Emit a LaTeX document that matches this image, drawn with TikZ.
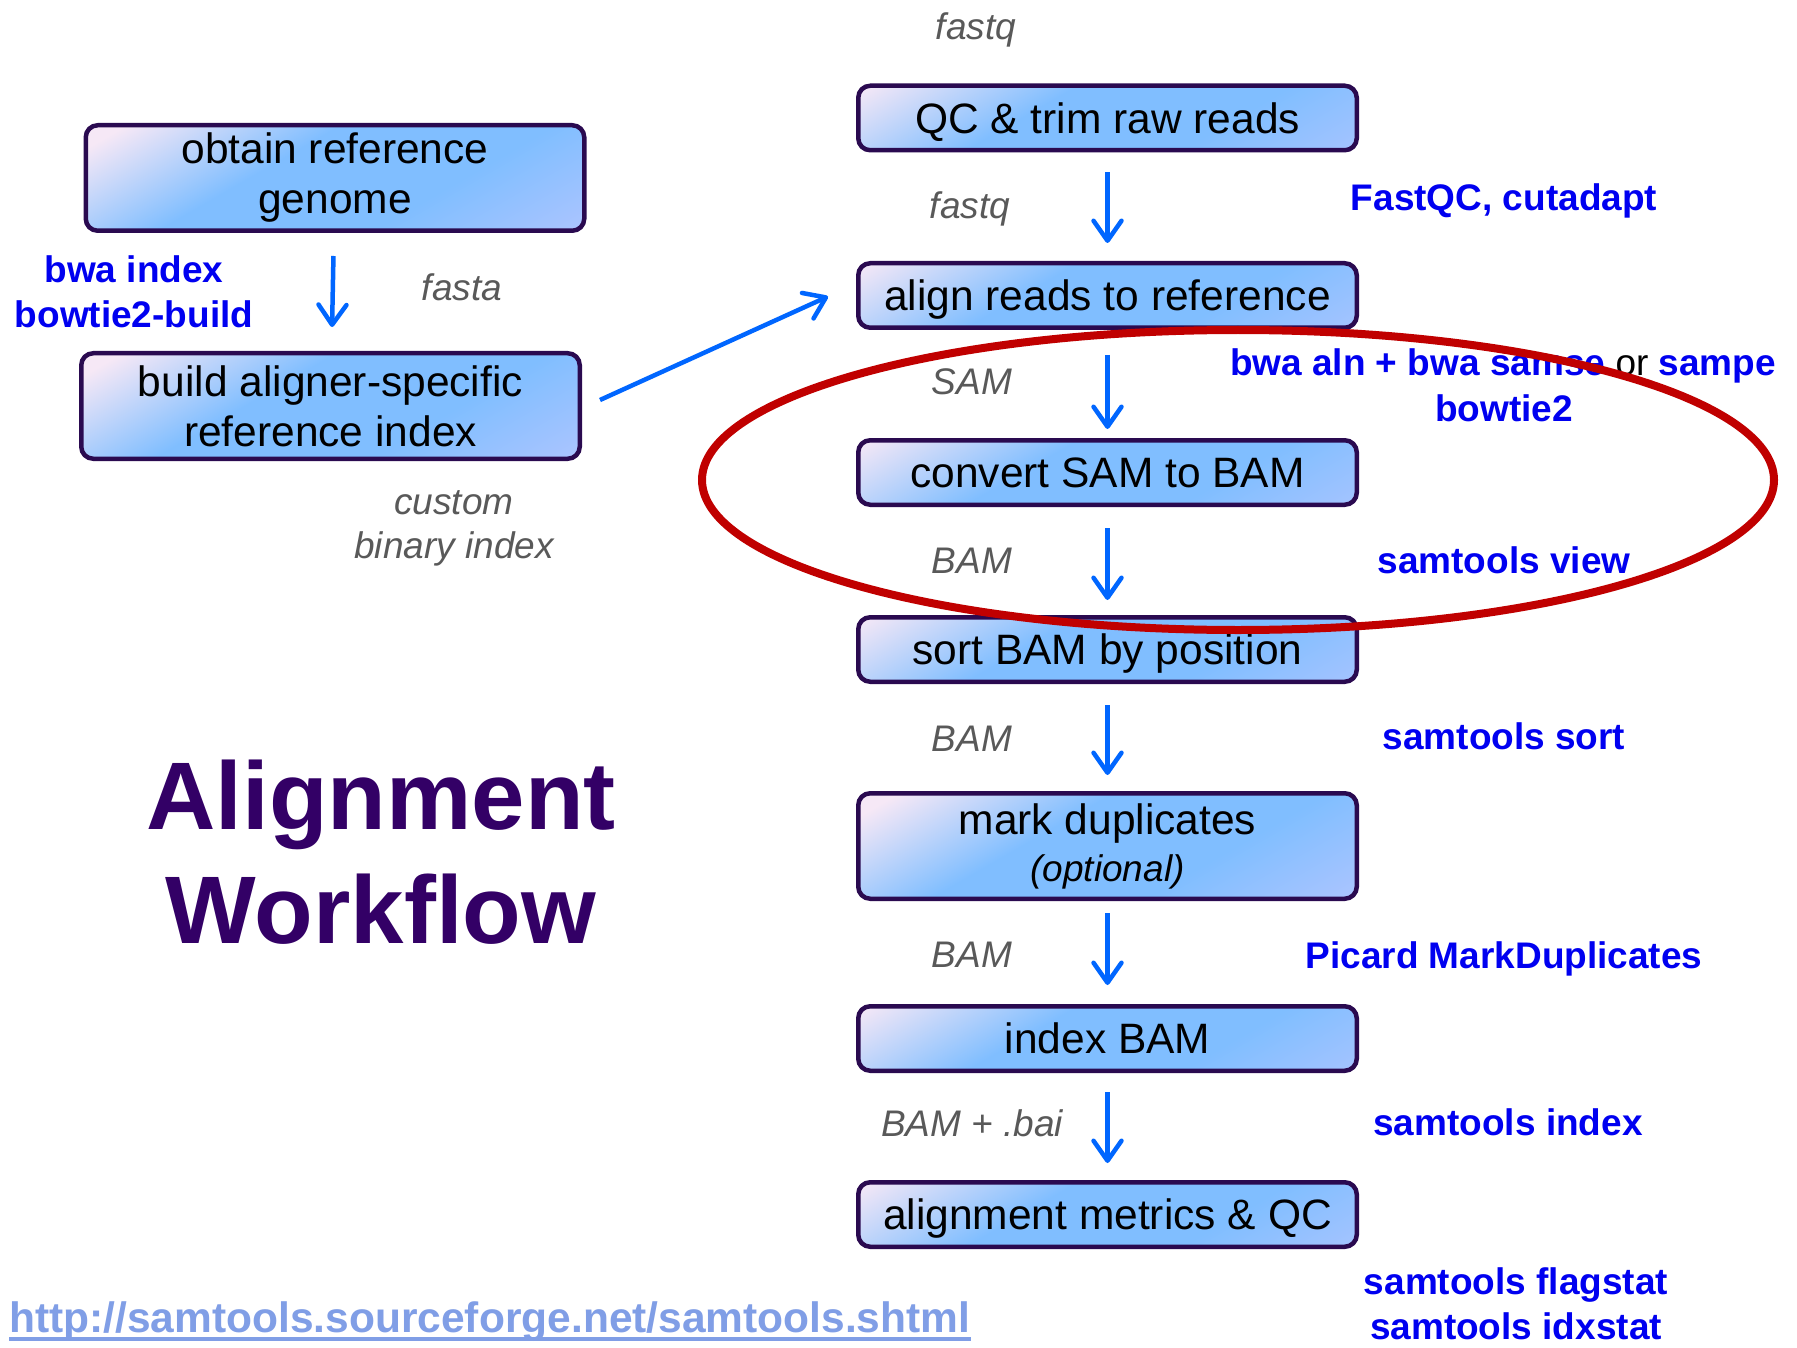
\documentclass[tikz,border=0pt]{standalone}
\usepackage{fontspec}
\setmainfont{Liberation Sans}
\usetikzlibrary{arrows.meta}
\definecolor{boxborder}{RGB}{42,10,80}
\definecolor{pinkc}{RGB}{246,232,246}
\definecolor{bluec}{RGB}{128,190,255}
\definecolor{lavc}{RGB}{168,196,255}
\definecolor{arrowblue}{RGB}{0,102,255}
\definecolor{toolblue}{RGB}{0,0,240}
\definecolor{labgray}{RGB}{89,89,89}
\definecolor{titlepurple}{RGB}{51,0,102}
\definecolor{urlblue}{RGB}{128,158,230}
\definecolor{ovalred}{RGB}{192,0,0}
\pgfdeclareverticalshading{boxgrad}{100bp}{color(0bp)=(lavc); color(35bp)=(lavc); color(44bp)=(bluec); color(54bp)=(bluec); color(64bp)=(pinkc); color(100bp)=(pinkc)}
\begin{document}
\begin{tikzpicture}[x=1pt,y=-1pt,
  stepbox/.style={draw=boxborder, line width=4.5pt, rounded corners=12pt,
    minimum width=498.5pt, minimum height=64.5pt, inner sep=0pt,
    font=\fontsize{42.5}{50}\selectfont, align=center,
    path picture={\shade[shading=boxgrad, shading angle=30]
      ([shift={(-270,-270)}]path picture bounding box.center) rectangle
      ([shift={(270,270)}]path picture bounding box.center);}},
  onebox/.style={stepbox, text height=30.5pt, text depth=0pt},
  twobox/.style={stepbox, minimum height=105.5pt},
  lab/.style={text=labgray, font=\fontsize{37}{44}\selectfont\itshape, anchor=base, inner sep=0pt, align=center},
  tool/.style={text=toolblue, font=\fontsize{37}{44}\selectfont\bfseries, anchor=base, inner sep=0pt, align=center},
  arr/.style={draw=arrowblue, line width=4.5pt, -{Straight Barb[length=20pt,width=28pt,round]}},
  titlefont/.style={font=\fontsize{96}{120}\selectfont\bfseries, anchor=base, inner sep=0pt, text=titlepurple}
]
\useasboundingbox[fill=white] (0,0) rectangle (1797,1348);

% main column
\node[onebox] (qc) at (1107.5,118) {QC \& trim raw reads};
\node[onebox] (align) at (1107.5,295.5) {align reads to reference};
\node[onebox] (conv) at (1107.5,472.5) {convert SAM to BAM};
\node[onebox] (sort) at (1107.5,649.5) {sort BAM by position};
\node[twobox] (mark) at (1107.5,846) {mark duplicates\\[-3pt]\fontsize{37}{44}\selectfont\itshape (optional)};
\node[onebox] (idx) at (1107.5,1038.5) {index BAM};
\node[onebox] (met) at (1107.5,1214.5) {alignment metrics \& QC};

% left column
\node[twobox] (obtain) at (335,178) {obtain reference\\genome};
\node[twobox] (build) at (330.5,406) {build aligner-specific\\reference index};

% arrows
\draw[arr, shorten <=20pt, shorten >=18pt] (qc) -- (align);
\draw[arr, shorten <=25pt, shorten >=9pt] (align) -- (conv);
\draw[arr, shorten <=21pt, shorten >=15pt] (conv) -- (sort);
\draw[arr, shorten <=21pt, shorten >=16pt] (sort) -- (mark);
\draw[arr, shorten <=12pt, shorten >=19pt] (mark) -- (idx);
\draw[arr, shorten <=19pt, shorten >=17pt] (idx) -- (met);
\draw[arr, shorten <=23pt, shorten >=24pt] (obtain) -- (build);
\draw[arr] ([shift={(18,-6)}]build.east) -- ([shift={(-28,1)}]align.west);

% gray data labels
\node[lab] (l0) at (976,40) {fastq};
\node[lab] (l1) at (970,219) {fastq};
\node[lab] (l2) at (972,395) {SAM};
\node[lab] (l3) at (972,573) {BAM};
\node[lab] (l4) at (972,751) {BAM};
\node[lab] (l5) at (972,967) {BAM};
\node[lab] (l6) at (972,1136) {BAM + .bai};
\node[lab] (lf) at (462,301) {fasta};
\node[lab] (lc1) at (454,514) {custom};
\node[lab] (lc2) at (454,558) {binary index};

% tool labels
\node[tool] (t1) at (1504,211) {FastQC, cutadapt};
\node[tool] (t2) at (1503,375) {bwa aln + bwa samse {\mdseries\color{black}or} sampe};
\node[tool] (t2b) at (1504,421) {bowtie2};
\node[tool] (t3) at (1504,573) {samtools view};
\node[tool] (t4) at (1504,749) {samtools sort};
\node[tool] (t5) at (1504,968) {Picard MarkDuplicates};
\node[tool] (t6) at (1508,1135) {samtools index};
\node[tool] (t7) at (1516,1294) {samtools flagstat};
\node[tool] (t8) at (1516,1339) {samtools idxstat};
\node[tool] (b1) at (134,283) {bwa index};
\node[tool] (b2) at (134,327) {bowtie2-build};

% title
\node[titlefont] (title1) at (381,829) {Alignment};
\node[titlefont] (title2) at (381,943) {Workflow};

% url
\node[anchor=base west, inner sep=0pt, text=urlblue, font=\fontsize{42.5}{50}\selectfont\bfseries] (url) at (9,1332) {http://samtools.sourceforge.net/samtools.shtml};
\draw[urlblue, line width=4pt] ([yshift=-7pt]url.base west) -- ([yshift=-7pt]url.base east);

% red oval
\coordinate (ovalc) at (1238,480);
\draw[ovalred, line width=8pt] (ovalc) ellipse [x radius=536, y radius=150];
\end{tikzpicture}
\end{document}
